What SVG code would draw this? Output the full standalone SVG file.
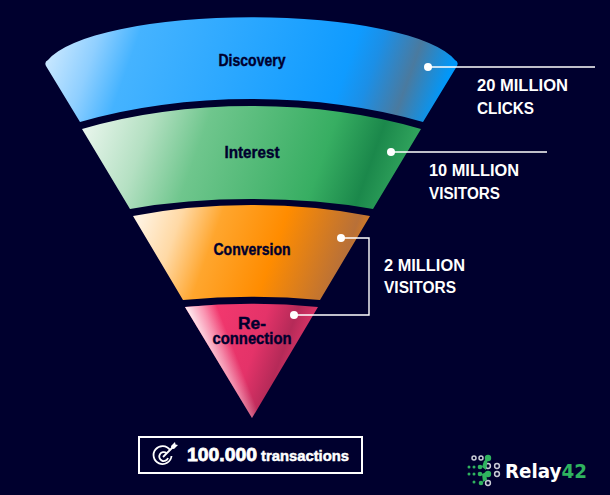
<svg xmlns="http://www.w3.org/2000/svg" width="610" height="495" viewBox="0 0 610 495">
  <style>
    .stage { font-family: "Liberation Sans", Arial, sans-serif; font-weight: 700; font-size: 16.5px; fill: #00002e; stroke: #00002e; stroke-width: 0.4; text-anchor: middle; }
    .figure { font-family: "Liberation Sans", Arial, sans-serif; font-weight: 700; font-size: 16px; fill: #ffffff; }
    .wire { fill: none; stroke: #ffffff; stroke-width: 1.4; }
    .dot { fill: #ffffff; }
    .ring { fill: none; stroke: #c9ccd6; stroke-width: 1.5; }
    .seed { fill: #2fb35f; }
  </style>
  <defs>
    <linearGradient id="gradDiscovery" gradientUnits="userSpaceOnUse" x1="45" y1="64" x2="458" y2="64" gradientTransform="rotate(19.6 252 64)">
      <stop offset="0" stop-color="#d8eeff"/>
      <stop offset="0.13" stop-color="#8fcfff"/>
      <stop offset="0.22" stop-color="#45b3ff"/>
      <stop offset="0.72" stop-color="#0f9bff"/>
      <stop offset="0.78" stop-color="#1c8fe6"/>
      <stop offset="0.87" stop-color="#4a7a9f"/>
      <stop offset="0.96" stop-color="#0098fb"/>
      <stop offset="1" stop-color="#0098ff"/>
    </linearGradient>
    <linearGradient id="gradInterest" gradientUnits="userSpaceOnUse" x1="85" y1="155" x2="420" y2="155" gradientTransform="rotate(19.6 252 155)">
      <stop offset="0" stop-color="#e8f5ec"/>
      <stop offset="0.18" stop-color="#b4e0c2"/>
      <stop offset="0.34" stop-color="#6fc68d"/>
      <stop offset="0.7" stop-color="#37ae62"/>
      <stop offset="0.84" stop-color="#1b884b"/>
      <stop offset="0.96" stop-color="#33a75f"/>
      <stop offset="1" stop-color="#35ac61"/>
    </linearGradient>
    <linearGradient id="gradConversion" gradientUnits="userSpaceOnUse" x1="135" y1="252" x2="372" y2="252" gradientTransform="rotate(19.6 252 252)">
      <stop offset="0" stop-color="#fff2e0"/>
      <stop offset="0.16" stop-color="#ffd9a5"/>
      <stop offset="0.32" stop-color="#ffa62e"/>
      <stop offset="0.58" stop-color="#ff8c00"/>
      <stop offset="0.87" stop-color="#b87038"/>
      <stop offset="1" stop-color="#ff8c00"/>
    </linearGradient>
    <linearGradient id="gradReconnection" gradientUnits="userSpaceOnUse" x1="195" y1="350" x2="312" y2="350" gradientTransform="rotate(19.6 252 350)">
      <stop offset="0" stop-color="#f5396f"/>
      <stop offset="0.5" stop-color="#e43369"/>
      <stop offset="0.74" stop-color="#b52a58"/>
      <stop offset="1" stop-color="#f23a70"/>
    </linearGradient>
    <linearGradient id="gradReconnectionEdge" gradientUnits="userSpaceOnUse" x1="185" y1="307" x2="213" y2="296">
      <stop offset="0" stop-color="#ffffff" stop-opacity="0.92"/>
      <stop offset="0.55" stop-color="#ffffff" stop-opacity="0.45"/>
      <stop offset="1" stop-color="#ffffff" stop-opacity="0"/>
    </linearGradient>
  </defs>

  <rect width="610" height="495" fill="#00002e"/>

  <g id="discovery">
    <path fill="url(#gradDiscovery)" d="M48 60 A208 54 0 0 1 455 60 Q459 62 457 66 L423 122 A300 128 0 0 0 80 122 L46 66 Q44 62 48 60 Z"/>
    <text class="stage" x="252" y="66" textLength="67" lengthAdjust="spacingAndGlyphs">Discovery</text>
  </g>
  <g id="interest">
    <path fill="url(#gradInterest)" d="M82 129 A290 122 0 0 1 421 129 L373 209 A240 72 0 0 0 130 209 Z"/>
    <text class="stage" x="252" y="158" textLength="55" lengthAdjust="spacingAndGlyphs">Interest</text>
  </g>
  <g id="conversion">
    <path fill="url(#gradConversion)" d="M133 216 A240 85 0 0 1 370 216 L320 300 A150 27 0 0 0 183 300 Z"/>
    <text class="stage" x="252" y="255" textLength="77" lengthAdjust="spacingAndGlyphs">Conversion</text>
  </g>
  <g id="reconnection">
    <path fill="url(#gradReconnection)" d="M185 307 A140 25 0 0 1 318 307 L252 418 Z"/>
    <path fill="url(#gradReconnectionEdge)" d="M185 307 A140 25 0 0 1 318 307 L252 418 Z"/>
    <text class="stage"><tspan x="252" y="329" textLength="28" lengthAdjust="spacingAndGlyphs">Re-</tspan><tspan x="252" y="344" textLength="79" lengthAdjust="spacingAndGlyphs">connection</tspan></text>
  </g>

  <g id="connectors">
    <path class="wire" d="M428 67 H595"/>
    <path class="wire" d="M391 152 H547"/>
    <path class="wire" d="M341 238 H369 V315 H294"/>
    <circle class="dot" cx="428" cy="67" r="4"/>
    <circle class="dot" cx="391" cy="152" r="4"/>
    <circle class="dot" cx="341" cy="238" r="4"/>
    <circle class="dot" cx="294" cy="315" r="4"/>
  </g>

  <g id="figure-clicks">
    <text class="figure" x="477" y="91" textLength="91" lengthAdjust="spacingAndGlyphs">20 MILLION</text>
    <text class="figure" x="477" y="114" textLength="57" lengthAdjust="spacingAndGlyphs">CLICKS</text>
  </g>
  <g id="figure-visitors">
    <text class="figure" x="429" y="176" textLength="90" lengthAdjust="spacingAndGlyphs">10 MILLION</text>
    <text class="figure" x="429" y="199" textLength="71" lengthAdjust="spacingAndGlyphs">VISITORS</text>
  </g>
  <g id="figure-reconnected">
    <text class="figure" x="384" y="271" textLength="81" lengthAdjust="spacingAndGlyphs">2 MILLION</text>
    <text class="figure" x="384" y="293" textLength="72" lengthAdjust="spacingAndGlyphs">VISITORS</text>
  </g>

  <g id="transactions">
    <rect x="139" y="437" width="223" height="36" fill="none" stroke="#ffffff" stroke-width="2"/>
    <g fill="none" stroke="#ffffff" stroke-width="1.8">
      <path d="M170 450 A9 9 0 1 0 171.500 456"/>
      <path d="M166.500 453 A4.500 4.500 0 1 0 168 458"/>
      <path d="M163 457 L173 447"/>
    </g>
    <path fill="#ffffff" d="M171 446 L175 442 L175.500 444.500 L178 445 L174 449 L171.500 448.500 Z"/>
    <text x="187" y="461" font-family="'Liberation Sans', sans-serif" font-weight="700" font-size="19" fill="#fff" stroke="#fff" stroke-width="0.8" textLength="70" lengthAdjust="spacingAndGlyphs">100.000</text>
    <text x="261" y="461" font-family="'Liberation Sans', sans-serif" font-weight="700" font-size="15.500" fill="#fff" stroke="#fff" stroke-width="0.5" textLength="88" lengthAdjust="spacingAndGlyphs">transactions</text>
  </g>

  <g id="logo">
    <circle class="ring" cx="474" cy="458" r="2"/>
    <circle class="ring" cx="481" cy="458" r="2"/>
    <circle class="seed" cx="488" cy="458" r="3.2"/>
    <circle class="seed" cx="469" cy="467" r="1.5"/>
    <circle class="seed" cx="474" cy="467" r="1.5"/>
    <circle class="seed" cx="480" cy="467" r="2.3"/>
    <circle class="ring" cx="488" cy="466" r="2.4"/>
    <circle class="ring" cx="497" cy="466" r="2.4"/>
    <circle class="seed" cx="469" cy="474" r="1.5"/>
    <circle class="seed" cx="474" cy="474" r="1.5"/>
    <circle class="seed" cx="480" cy="474" r="2.3"/>
    <circle class="seed" cx="488" cy="474" r="3.2"/>
    <circle class="ring" cx="497" cy="474" r="2.4"/>
    <circle class="seed" cx="474" cy="482" r="1.5"/>
    <circle class="seed" cx="481" cy="483" r="2.3"/>
    <circle class="ring" cx="488" cy="483" r="2.4"/>
    <path class="seed" d="M484 461 L488 458 L486 470 L482 467 Z"/>
    <path class="seed" d="M482 474 L486 472 L487 480 L483 482 Z"/>
    <text x="505" y="478" font-family="'DejaVu Sans', sans-serif" font-weight="700" font-size="19" textLength="82" lengthAdjust="spacingAndGlyphs" fill="#ffffff">Relay<tspan fill="#2fb35f">42</tspan></text>
  </g>
</svg>
